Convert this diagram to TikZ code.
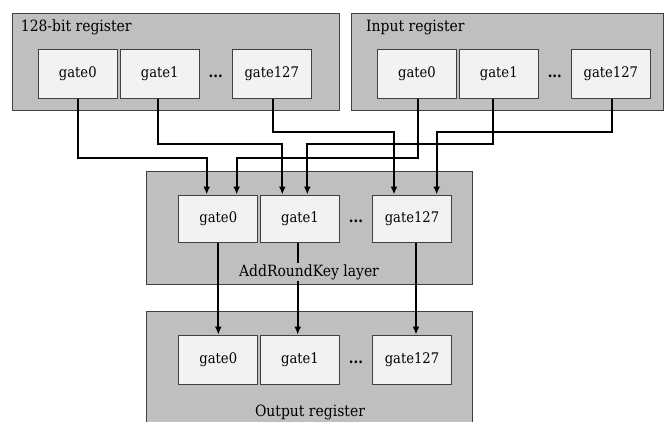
\documentclass[tikz,border=0pt]{standalone}
\usepackage{fontspec}
\setmainfont{DejaVu Serif Condensed}
\usetikzlibrary{arrows.meta,calc}
\definecolor{regfill}{HTML}{BFBFBF}
\definecolor{gatefill}{HTML}{F2F2F2}
\definecolor{edgecol}{HTML}{404040}

\begin{document}
\begin{tikzpicture}[x=1pt,y=-1pt,
  txt/.style={font=\fontsize{15.5}{18}\selectfont},
  gtxt/.style={font=\fontsize{14.6}{17}\selectfont},
  register/.style={draw=edgecol, fill=regfill, line width=1pt, inner sep=0pt},
  gatebox/.style={gtxt, draw=edgecol, fill=gatefill, line width=0.9pt,
    minimum width=79pt, minimum height=49pt, inner sep=0pt},
  ellip/.style={font=\fontsize{15}{18}\selectfont\bfseries, anchor=base, inner sep=0pt},
  wire/.style={line width=1.7pt, -{Latex[length=8pt,width=7pt]}}
]
\useasboundingbox (0,0) rectangle (665,421);

% register frames
\node[register, minimum width=326.3pt, minimum height=96.7pt] (R1) at (175.85,61.65) {};
\node[register, minimum width=312.2pt, minimum height=96.7pt] (R2) at (507.4,61.65) {};
\node[register, minimum width=326.7pt, minimum height=113.3pt] (R3) at (309.35,227.65) {};
\node[register, minimum width=326.7pt, minimum height=130pt] (R4) at (309.35,376.7) {};

\node[txt, anchor=base west, inner sep=0pt] (L1) at (20.7,31) {128-bit register};
\node[txt, anchor=base west, inner sep=0pt] (L2) at (366,31) {Input register};

% 128-bit register gates
\node[gatebox] (A0) at (77.8,73.8) {gate0};
\node[gatebox] (A1) at (159.7,73.8) {gate1};
\node[gatebox] (A127) at (271.7,73.8) {gate127};
\node[ellip] (Ad) at ($(A1.base)!0.5!(A127.base)$) {...};

% input register gates
\node[gatebox] (B0) at (417,73.8) {gate0};
\node[gatebox] (B1) at (498.8,73.8) {gate1};
\node[gatebox] (B127) at (610.8,73.8) {gate127};
\node[ellip] (Bd) at ($(B1.base)!0.5!(B127.base)$) {...};

% AddRoundKey gates
\node[gatebox, minimum height=47.7pt] (M0) at (218.3,218.8) {gate0};
\node[gatebox, minimum height=47.7pt] (M1) at (300,218.8) {gate1};
\node[gatebox, minimum height=47.7pt] (M127) at (412,218.8) {gate127};
\node[ellip] (Md) at ($(M1.base)!0.5!(M127.base)$) {...};

% output register gates
\node[gatebox] (O0) at (218.3,359.5) {gate0};
\node[gatebox] (O1) at (300,359.5) {gate1};
\node[gatebox] (O127) at (412,359.5) {gate127};
\node[ellip] (Od) at ($(O1.base)!0.5!(O127.base)$) {...};

% bend points of the key and input wires
\coordinate (ka) at (206.7,158.3);
\coordinate (kb) at (282.3,144);
\coordinate (kc) at (394,131.7);
\coordinate (ia) at (236.7,158.3);
\coordinate (ib) at (307.3,144);
\coordinate (ic) at (436.7,132.3);

\draw[wire] ([xshift=0.5pt]A0.south) |- (ka) -- (ka |- M0.north);
\draw[wire] ([xshift=-2pt]A1.south) |- (kb) -- (kb |- M1.north);
\draw[wire] ([xshift=1.6pt]A127.south) |- (kc) -- (kc |- M127.north);
\draw[wire] ([xshift=1.3pt]B0.south) |- (ia) -- (ia |- M0.north);
\draw[wire] ([xshift=-5.5pt]B1.south) |- (ib) -- (ib |- M1.north);
\draw[wire] ([xshift=1.5pt]B127.south) |- (ic) -- (ic |- M127.north);

% AddRoundKey to output
\draw[wire] (M0.south) -- (O0.north);
\draw[wire] ([xshift=-2.3pt]M1.south) -- ([xshift=-2.3pt]O1.north);
\draw[wire] ([xshift=4pt]M127.south) -- ([xshift=4pt]O127.north);

\node[txt, fill=regfill, inner sep=1.5pt] (L3) at (309,272) {AddRoundKey layer};
\node[txt, inner sep=1pt] (L4) at (310,412) {Output register};
\end{tikzpicture}
\end{document}
